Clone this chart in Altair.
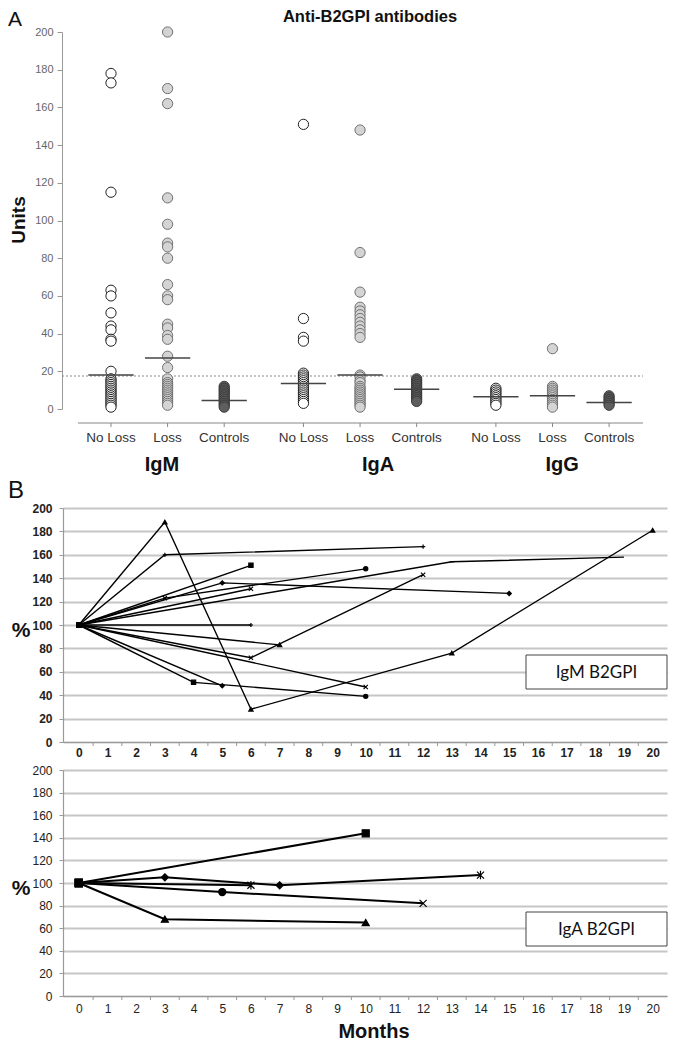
import altair as alt
import pandas as pd

FONT = "Liberation Sans"
BOX_FONT = "Lato"

# ---------------- Panel A data ----------------
subgroups = ["No Loss", "Loss", "Controls"]
isotypes = ["IgM", "IgA", "IgG"]

igm_noloss = [178, 173, 115, 63, 60, 51, 44, 42, 37, 36, 20, 16, 15, 14, 13, 12, 11, 10, 9, 8, 7, 6, 5, 4, 3, 2, 1]
igm_loss = [200, 170, 162, 112, 98, 88, 86, 80, 66, 60, 58, 45, 43, 39, 37, 28, 22, 16, 14, 13, 12, 11,
            10, 9, 8, 7, 6, 5, 4, 3, 2]
igm_controls = [12, 11, 10, 9, 8, 7, 6, 5, 4, 3, 2, 1]
iga_noloss = [151, 48, 38, 36, 19, 18, 17, 16, 15, 14, 13, 12, 11, 10, 9, 8, 7, 6, 5, 4, 3]
iga_loss = [148, 83, 62, 54, 52, 50, 48, 46, 44, 42, 40, 38, 18, 17, 15, 14, 12, 11, 10, 9, 8, 7, 6, 5,
            4, 3, 2, 1]
iga_controls = [16, 15, 14, 13, 12, 11, 10, 9, 8, 7, 6, 5, 4]
igg_noloss = [11, 10, 9, 8, 7, 6, 5, 4, 3, 2]
igg_loss = [32, 12, 11, 10, 9, 8, 7, 6, 5, 4, 3, 2, 1]
igg_controls = [7, 6, 5, 4, 3, 2]
mean_values = [18, 27, 4.5, 13.5, 18, 10.5, 6.5, 7, 3.5]
cutoff = 17.5

group_values = [igm_noloss, igm_loss, igm_controls,
                iga_noloss, iga_loss, iga_controls,
                igg_noloss, igg_loss, igg_controls]

# ---------------- Panel B data ----------------
igm_months = [[0, 3, 6, 13, 20], [0, 3, 12], [0, 6], [0, 5, 15], [0, 3, 10], [0, 13, 19], [0, 6],
              [0, 6], [0, 7], [0, 6, 12], [0, 10], [0, 4, 10], [0, 5]]
igm_values = [[100, 188, 28, 76, 181], [100, 160, 167], [100, 151], [100, 136, 127], [100, 123, 148],
              [100, 154, 158], [100, 131], [100, 100], [100, 83], [100, 72, 143], [100, 47],
              [100, 51, 39], [100, 48]]

iga_months = [[0, 10], [0, 3, 7, 14], [0, 6], [0, 5, 12], [0, 3, 10]]
iga_values = [[100, 144], [100, 105, 98, 107], [100, 98], [100, 92, 82], [100, 68, 65]]

months_ticks = list(range(0, 21))
pct_ticks = list(range(0, 201, 20))
unit_ticks = list(range(0, 201, 20))

# ---------------- styles / layout (not data) ----------------
X_MARK = "M-1,-1L1,1M1,-1L-1,1"
PLUS_MARK = "M-1,0L1,0M0,-1L0,1"
DASH_MARK = "M-1,0L1,0"
STAR_MARK = "M-1,-1L1,1M1,-1L-1,1M0,-1.2L0,1.2"
NONE_MARK = "M0,0"
SQ, DI, TR, CI = "square", "diamond", "triangle-up", "circle"

igm_point_markers = [[SQ, TR, TR, TR, TR], [SQ, PLUS_MARK, PLUS_MARK], [SQ, SQ], [SQ, DI, DI],
                     [SQ, X_MARK, CI], [SQ, DASH_MARK, NONE_MARK], [SQ, X_MARK], [SQ, PLUS_MARK],
                     [SQ, TR], [SQ, X_MARK, X_MARK], [SQ, X_MARK], [SQ, SQ, CI], [SQ, DI]]
iga_point_markers = [[SQ, SQ], [SQ, DI, DI, STAR_MARK], [SQ, STAR_MARK], [SQ, CI, X_MARK],
                     [SQ, TR, TR]]
marker_kinds = [SQ, DI, TR, CI, X_MARK, PLUS_MARK, DASH_MARK, STAR_MARK, NONE_MARK]

cat_pos = [0, 1, 2, 3.4, 4.4, 5.4, 6.8, 7.8, 8.8]
iso_label_pos = [0.9, 4.72, 7.97]

one = pd.DataFrame({"k": [0]})

# ---------------- Panel A ----------------
rows = []
for i, vals in enumerate(group_values):
    for v in vals:
        rows.append({"pos": cat_pos[i], "value": v, "sub": subgroups[i % 3]})
dfA = pd.DataFrame(rows)
dfMean = pd.DataFrame({"x1": [p - 0.4 for p in cat_pos], "x2": [p + 0.4 for p in cat_pos],
                       "value": mean_values})
dfCat = pd.DataFrame({"pos": cat_pos, "label": subgroups * 3})
dfIso = pd.DataFrame({"pos": iso_label_pos, "label": isotypes})
dfCut = pd.DataFrame({"value": [cutoff]})

WA, HA_PLOT, HA = 580, 377, 448
xA = alt.Scale(domain=[-0.848, 9.399], nice=False, zero=False)
yA = alt.Scale(domain=[0, 200], range=[HA_PLOT, 0], nice=False, zero=False)
yAxisA = alt.Axis(values=unit_ticks, grid=False, tickSize=5, tickColor="#999", domainColor="#999",
                  labelColor="#666", labelFontSize=11, labelFont=FONT, labelPadding=4, offset=1,
                  title=None, labelOverlap=False)


def YA(field):
    return alt.Y(field, scale=yA, axis=yAxisA, title=None)


def XA(field):
    return alt.X(field, scale=xA, axis=None, title=None)


cutA = alt.Chart(dfCut).mark_rule(color="#888", strokeDash=[2, 2], strokeWidth=1).encode(
    y=YA("value:Q"), x=alt.value(-1), x2=alt.value(WA))

pointsA = alt.Chart(dfA).mark_point(filled=True, size=105, strokeWidth=1, opacity=1, shape="circle").encode(
    x=XA("pos:Q"), y=YA("value:Q"),
    fill=alt.Fill("sub:N", scale=alt.Scale(domain=subgroups, range=["white", "#d4d4d4", "#5e5e5e"]),
                  legend=None),
    stroke=alt.Stroke("sub:N", scale=alt.Scale(domain=subgroups, range=["#222", "#707070", "#3a3a3a"]),
                      legend=None),
)

meanA = alt.Chart(dfMean).mark_rule(color="#444", strokeWidth=1.5).encode(
    x=XA("x1:Q"), x2="x2:Q", y=YA("value:Q"))

axisLineA = alt.Chart(one).mark_rule(color="#888", strokeWidth=1.2).encode(
    x=alt.value(15), x2=alt.value(WA), y=alt.value(HA_PLOT + 14))
ticksA = alt.Chart(dfCat).mark_rule(color="#888").encode(
    x=XA("pos:Q"), y=alt.value(HA_PLOT + 14), y2=alt.value(HA_PLOT + 18))
catLabelsA = alt.Chart(dfCat).mark_text(font=FONT, fontSize=13.5, color="#333", baseline="middle").encode(
    x=XA("pos:Q"), y=alt.value(HA_PLOT + 29), text="label:N")
isoLabelsA = alt.Chart(dfIso).mark_text(font=FONT, fontSize=20, fontWeight="bold", color="#111",
                                         baseline="alphabetic").encode(
    x=XA("pos:Q"), y=alt.value(HA_PLOT + 62), text="label:N")
titleA = alt.Chart(one).mark_text(font=FONT, fontSize=16.5, fontWeight="bold", color="#111",
                                  baseline="alphabetic").encode(
    x=alt.value(307), y=alt.value(-10), text=alt.value("Anti-B2GPI antibodies"))
letterA = alt.Chart(one).mark_text(font=FONT, fontSize=21, color="#111", align="left",
                                   baseline="alphabetic").encode(
    x=alt.value(-55), y=alt.value(-6), text=alt.value("A"))
unitsA = alt.Chart(one).mark_text(font=FONT, fontSize=19, fontWeight="bold", color="#111", angle=270,
                                  baseline="middle").encode(
    x=alt.value(-44), y=alt.value(188), text=alt.value("Units"))

chartA = alt.layer(cutA, pointsA, meanA, axisLineA, ticksA, catLabelsA, isoLabelsA, titleA, letterA,
                   unitsA).properties(width=WA, height=HA)

# ---------------- Panel B ----------------
WB = 604
xB = alt.Scale(domain=[-0.55, 20.5], nice=False, zero=False)
yB = alt.Scale(domain=[0, 200], nice=False, zero=False)


def panel_b(prefix, months, values, point_markers, height, bold, line_w, mk_size, xlab_pad, legend,
            box_y, pct_y, extra):
    rows = []
    for i, (ms, vs, mk) in enumerate(zip(months, values, point_markers)):
        name = "%s%d" % (prefix, i)
        for m, v, k in zip(ms, vs, mk):
            rows.append({"series": name, "month": m, "pct": v, "mk": k})
    df = pd.DataFrame(rows)
    weight = "bold" if bold else "normal"
    xaxis = alt.Axis(values=months_ticks, ticks=False, grid=False, domainColor="#999", domainWidth=1.2,
                     labelFont=FONT, labelFontSize=12, labelFontWeight=weight, labelColor="#222",
                     labelPadding=xlab_pad, labelFlush=False, labelOverlap=False, title=None)
    yaxis = alt.Axis(values=pct_ticks, grid=True, gridColor="#c6c6c6", gridWidth=2, tickSize=4,
                     tickColor="#999", domainColor="#999", domainWidth=1.2, labelFont=FONT,
                     labelFontSize=12, labelFontWeight=weight, labelColor="#222", labelPadding=7,
                     labelOverlap=False, title=None)
    X = alt.X("month:Q", scale=xB, axis=xaxis, title=None)
    Y = alt.Y("pct:Q", scale=yB, axis=yaxis, title=None)
    lines = alt.Chart(df).mark_line(color="black", strokeWidth=line_w).encode(
        x=X, y=Y, detail="series:N", order="month:Q")
    pts = alt.Chart(df).mark_point(filled=True, fill="black", stroke="black", strokeWidth=1.2,
                                   size=mk_size, opacity=1).encode(
        x=X, y=Y,
        shape=alt.Shape("mk:N", scale=alt.Scale(domain=marker_kinds, range=marker_kinds), legend=None))
    dft = pd.DataFrame({"m": [m + 0.5 for m in months_ticks[:-1]]})
    ticks = alt.Chart(dft).mark_rule(color="#999").encode(
        x=alt.X("m:Q", scale=xB, axis=xaxis, title=None), y=alt.value(height), y2=alt.value(height + 4))
    box = alt.Chart(one).mark_rect(fill="white", stroke="#444", strokeWidth=1).encode(
        x=alt.value(463), x2=alt.value(604), y=alt.value(box_y), y2=alt.value(box_y + 34))
    boxtext = alt.Chart(one).mark_text(font=BOX_FONT, fontSize=17, color="#111", baseline="middle").encode(
        x=alt.value(533.5), y=alt.value(box_y + 17.5), text=alt.value(legend))
    pct = alt.Chart(one).mark_text(font=FONT, fontSize=21, fontWeight="bold", color="#111",
                                   baseline="middle").encode(
        x=alt.value(-42), y=alt.value(pct_y), text=alt.value("%"))
    layers = [lines, pts, ticks, box, boxtext, pct] + extra
    return alt.layer(*layers).properties(width=WB, height=height)


HB1, HB2 = 234, 226
letterB = alt.Chart(one).mark_text(font=FONT, fontSize=24, color="#111", align="left",
                                   baseline="alphabetic").encode(
    x=alt.value(-55), y=alt.value(-10), text=alt.value("B"))
monthsT = alt.Chart(one).mark_text(font=FONT, fontSize=20, fontWeight="bold", color="#111",
                                   baseline="alphabetic").encode(
    x=alt.value(311), y=alt.value(HB2 + 42), text=alt.value("Months"))

chartB1 = panel_b("m", igm_months, igm_values, igm_point_markers, HB1, True, 1.4, 18, 5, "IgM B2GPI",
                  147, 123, [letterB])
chartB2 = panel_b("a", iga_months, iga_values, iga_point_markers, HB2, False, 2, 50, 7, "IgA B2GPI",
                  142, 119, [monthsT])

chart = alt.vconcat(chartA, chartB1, chartB2, spacing=28, bounds="flush").resolve_scale(
    shape="independent", fill="independent", stroke="independent"
).properties(
    padding={"top": 1, "left": 0, "right": 0, "bottom": 0}
).configure_view(stroke=None)

chart.save("out.html", embed_options={"renderer": "svg", "actions": False})
